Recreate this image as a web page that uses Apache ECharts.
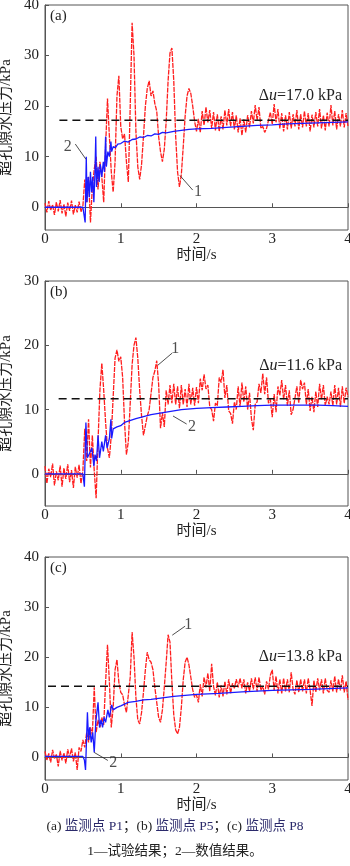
<!DOCTYPE html>
<html lang="zh">

<head>
    <meta charset="UTF-8">
    <title>超孔隙水压力时程</title>
    <script src="https://cdn.jsdelivr.net/npm/echarts@6.0.0/dist/echarts.min.js"></script>
    <style>
        html, body { margin: 0; padding: 0; background: #fff; }
        #main { width: 350px; height: 866px; }
    </style>
</head>

<body>
    <div id="main"></div>
</body>

</html>
<script type="text/javascript">
    // 试验结果（红）：从 0 s 开始，每 0.025 s 一个点
    var DT = 0.025;
    var redA = [
        0.8, -1.0, 1.2, -0.6, 0.5, -1.5, 1.0, -0.8, 1.4, -1.2,
        0.6, -1.8, 0.9, -0.7, 1.3, -1.4, 0.4, -1.0, 1.1, -0.9,
        0.2, 5.5, 1.0, 6.0, -3.0, 4.0, 7.5, 10.0, 3.5, 9.0,
        6.0, 1.0, 12.0, 21.5, 14.0, 7.0, 3.0, 9.0, 22.0, 26.0,
        16.0, 13.5, 14.5, 9.0, 5.0, 20.0, 36.5, 30.0, 15.0, 8.0,
        5.5, 8.5, 14.0, 20.0, 23.5, 25.0, 22.0, 23.0, 20.5, 19.0,
        14.0, 11.0, 9.0, 11.5, 17.0, 25.0, 30.5, 31.5, 25.0, 14.0,
        7.0, 4.0, 6.5, 12.0, 18.0, 22.0, 23.5, 22.5, 20.0, 17.0,
        15.0, 17.5, 14.8, 19.0, 16.2, 19.8, 16.8, 19.2, 15.6, 18.8,
        15.2, 18.4, 15.0, 18.0, 15.4, 19.2, 16.2, 19.4, 16.0, 18.8,
        15.4, 18.2, 14.8, 17.6, 14.2, 17.4, 14.8, 18.2, 15.8, 19.0,
        16.6, 20.2, 17.2, 19.8, 15.6, 16.0, 14.8, 15.6, 15.8, 18.8,
        16.4, 20.4, 16.8, 19.4, 15.6, 18.6, 15.0, 18.2, 15.4, 18.8,
        15.6, 18.4, 16.0, 19.2, 15.4, 18.4, 15.8, 19.0, 16.0, 18.6,
        15.0, 18.3, 15.8, 18.8, 16.0, 19.4, 15.6, 18.2, 15.2, 18.7,
        16.0, 20.2, 16.2, 19.0, 15.4, 18.4, 16.0, 19.2, 15.8, 18.6,
        16.0
    ];
    var redB = [
        1.2, -1.5, 0.8, -0.5, 1.6, -1.8, 0.4, -1.0, 1.3, -2.0,
        0.9, -0.8, 1.5, -1.3, 0.6, -2.2, 1.1, -0.6, 1.4, -1.5,
        0.5, 7.0, 2.0, 8.5, 1.0, 6.0, 0.5, -3.8, 5.0, 13.0,
        17.2, 13.0, 8.0, 4.0, 2.5, 6.0, 12.0, 18.0, 19.3, 17.5,
        18.2, 15.0, 8.0, 3.0, 5.0, 11.0, 17.0, 20.0, 21.2, 18.0,
        13.0, 9.0, 6.0, 7.5, 9.0, 10.0, 12.5, 15.0, 16.0, 17.6,
        14.0, 7.1, 9.5, 7.3, 13.0, 10.8, 13.8, 11.0, 14.0, 10.8,
        13.6, 10.2, 13.8, 10.8, 13.2, 10.4, 14.0, 10.8, 13.4, 10.6,
        13.5, 11.0, 14.8, 13.0, 15.5, 13.2, 13.8, 10.4, 10.0, 8.2,
        11.0, 10.6, 15.0, 14.2, 16.2, 11.8, 13.8, 9.8, 9.4, 7.8,
        11.2, 10.0, 13.6, 10.4, 14.2, 11.2, 13.6, 10.0, 12.6, 8.6,
        6.8, 10.8, 11.2, 14.0, 12.6, 15.6, 12.4, 15.0, 11.0, 11.6,
        8.8, 12.4, 9.6, 13.6, 12.2, 14.6, 11.6, 13.8, 10.6, 13.0,
        9.2, 10.0, 10.0, 13.6, 11.0, 14.6, 13.2, 14.2, 10.8, 13.2,
        9.8, 12.0, 9.6, 12.8, 10.4, 14.0, 11.6, 13.8, 10.6, 12.0,
        10.8, 12.8, 10.6, 13.8, 10.8, 13.4, 10.4, 13.6, 11.0, 13.4,
        12.0
    ];
    var redC = [
        1.2, -0.5, 0.8, -1.0, 1.5, -0.2, 0.6, -1.8, 1.3, -0.6,
        0.9, -1.2, 1.6, 0.0, 1.8, -0.8, 1.0, -2.5, 2.0, 1.2,
        3.5, 2.0, 5.0, 3.0, 6.0, 4.5, 14.0, 5.0, 7.5, 6.0,
        8.0, 6.5, 15.0, 22.5, 15.0, 6.0, 10.0, 17.5, 19.5, 15.0,
        13.0, 12.5, 10.5, 9.0, 8.7, 16.0, 25.0, 20.0, 12.0, 7.5,
        6.7, 9.0, 13.0, 17.5, 21.0, 19.5, 19.0, 17.5, 14.0, 11.0,
        8.0, 7.0, 9.5, 14.0, 19.0, 24.5, 23.0, 15.0, 8.5, 5.5,
        4.7, 6.0, 10.0, 15.5, 19.0, 20.0, 18.5, 16.0, 13.5, 12.0,
        12.5, 11.0, 14.6, 12.2, 16.0, 14.0, 16.8, 13.2, 18.7, 14.2,
        12.4, 15.0, 12.0, 14.4, 12.2, 15.2, 12.6, 15.6, 12.8, 14.8,
        13.8, 15.6, 14.0, 15.8, 13.8, 15.6, 12.8, 15.0, 13.2, 15.8,
        13.6, 16.0, 13.2, 16.0, 13.4, 14.2, 12.6, 15.2, 13.6, 16.4,
        17.5, 13.4, 16.2, 12.8, 15.6, 12.8, 15.8, 13.2, 15.6, 13.0,
        17.0, 13.6, 12.6, 15.4, 13.0, 15.6, 13.2, 15.6, 12.8, 15.8,
        13.4, 10.3, 15.4, 13.0, 15.8, 13.4, 15.6, 12.8, 15.8, 13.4,
        13.0, 15.4, 13.2, 16.2, 13.0, 15.6, 13.4, 16.4, 13.0, 15.2,
        11.5
    ];

    // 数值结果（蓝）：[时间 s, 压力 kPa]
    var blueA = [[0, 0], [0.5, 0], [0.52, -0.3], [0.53, -3], [0.545, 10], [0.555, 1], [0.57, 6], [0.585, 2],
        [0.6, 7], [0.615, 3], [0.63, 6], [0.645, 1], [0.66, 7], [0.67, 14], [0.68, 4], [0.7, 8], [0.715, 5],
        [0.73, 8.5], [0.75, 6], [0.77, 9], [0.785, 7], [0.8, 14], [0.81, 8], [0.83, 11], [0.85, 10], [0.87, 13],
        [0.88, 11], [0.9, 12], [0.93, 11.8], [0.96, 12.5], [1.0, 12.6], [1.05, 13.1], [1.1, 12.9], [1.15, 13.4],
        [1.2, 13.5], [1.25, 13.9], [1.3, 13.8], [1.35, 14.2], [1.4, 14.1], [1.45, 14.5], [1.5, 14.4],
        [1.55, 14.8], [1.6, 14.7], [1.7, 15.0], [1.8, 15.2], [1.9, 15.4], [2.0, 15.5], [2.2, 15.6], [2.4, 15.8],
        [2.6, 16.0], [2.8, 16.2], [3.0, 16.3], [3.2, 16.5], [3.4, 16.6], [3.6, 16.7], [3.8, 16.8], [4.0, 16.9]];
    var blueB = [[0, 0], [0.5, 0], [0.52, -2], [0.54, 8], [0.56, 2.5], [0.58, 3], [0.6, 2.8], [0.62, 4],
        [0.645, 1.2], [0.66, 3], [0.68, 2], [0.7, 6], [0.72, 2.5], [0.75, 5], [0.77, 3.5], [0.8, 6], [0.82, 4],
        [0.85, 5.5], [0.87, 8.5], [0.88, 5.5], [0.9, 7], [0.95, 7.3], [1.0, 7.5], [1.05, 8.0], [1.1, 8.2],
        [1.2, 8.6], [1.3, 8.9], [1.4, 9.2], [1.5, 9.4], [1.6, 9.6], [1.7, 9.8], [1.8, 10.0], [2.0, 10.2],
        [2.2, 10.3], [2.4, 10.4], [2.6, 10.5], [2.8, 10.6], [3.0, 10.7], [3.2, 10.7], [3.4, 10.7], [3.6, 10.7],
        [3.8, 10.6], [4.0, 10.5]];
    var blueC = [[0, 0.2], [0.5, 0.2], [0.52, -0.5], [0.535, -2.5], [0.56, 9], [0.575, 3.5], [0.59, 6],
        [0.61, 3], [0.63, 5], [0.65, 1], [0.67, 7], [0.7, 11], [0.72, 6], [0.74, 7.5], [0.76, 6], [0.78, 8],
        [0.8, 7], [0.83, 9.5], [0.85, 8], [0.88, 10.5], [0.9, 9.5], [0.95, 10], [1.0, 10.3], [1.1, 11.0],
        [1.2, 11.2], [1.3, 11.5], [1.4, 11.6], [1.5, 11.8], [1.7, 12.2], [2.0, 12.6], [2.3, 12.8], [2.6, 13.1],
        [3.0, 13.4], [3.5, 13.6], [4.0, 13.9]];

    // Δu 参考线 [起点 s, 终点 s, kPa]
    var duA = [0.19, 4, 17.2];
    var duB = [0.18, 4, 11.7];
    var duC = [0.04, 4, 14.2];
    var duText = ['17.0', '11.6', '13.8'];

    var yTicksA = [0, 10, 20, 30, 40];
    var yTicksB = [0, 10, 20, 30];
    var yTicksC = [0, 10, 20, 30, 40];

    var SERIF = 'Liberation Serif, Noto Sans CJK SC';

    // 面板布局
    var panels = [
        { top: 5, height: 225, ymin: -4.5, ymax: 40, yt: yTicksA, red: redA, blue: blueA, du: duA, tag: '(a)',
          n1: [[1.78, 6.3], [1.95, 3.4]], l1: [2.02, 3.0], n2: [[0.40, 12.5], [0.54, 9.5]], l2: [0.30, 11.9] },
        { top: 281, height: 225, ymin: -5, ymax: 30, yt: yTicksB, red: redB, blue: blueB, du: duB, tag: '(b)',
          n1: [[1.49, 16.9], [1.68, 18.8]], l1: [1.72, 19.5], n2: [[1.69, 9.0], [1.87, 7.75]], l2: [1.94, 7.3] },
        { top: 557, height: 223, ymin: -4.5, ymax: 40, yt: yTicksC, red: redC, blue: blueC, du: duC, tag: '(c)',
          n1: [[1.68, 24.4], [1.85, 26.2]], l1: [1.89, 26.4], n2: [[0.65, 1.0], [0.83, -0.6]], l2: [0.90, -1.0] }
    ];

    var grid = [], xAxis = [], yAxis = [], series = [], graphic = [];

    panels.forEach(function(p, k) {
        grid.push({ left: 45, width: 303, top: p.top, height: p.height, show: true,
            borderColor: '#555', borderWidth: 1, containLabel: false, outerBoundsMode: 'none' });
        xAxis.push({
            gridIndex: k, type: 'value', min: 0, max: 4, interval: 1,
            name: '时间/s', nameLocation: 'middle', nameGap: 16,
            nameTextStyle: { fontFamily: SERIF, fontSize: 15, color: '#222' },
            axisLine: { lineStyle: { color: '#555' } },
            axisTick: { inside: true, length: 4, lineStyle: { color: '#555' } },
            axisLabel: { margin: 2, fontFamily: SERIF, fontSize: 15, color: '#222' },
            splitLine: { show: false }
        });
        yAxis.push({
            gridIndex: k, type: 'value', min: p.ymin, max: p.ymax,
            name: '超孔隙水压力/kPa', nameLocation: 'middle', nameGap: 27,
            nameTextStyle: { fontFamily: SERIF, fontSize: 15, color: '#222' },
            axisLine: { lineStyle: { color: '#555' } },
            axisTick: { inside: true, length: 4, customValues: p.yt, lineStyle: { color: '#555' } },
            axisLabel: { margin: 6, customValues: p.yt, fontFamily: SERIF, fontSize: 15, color: '#222' },
            splitLine: { show: false }
        });

        var redPts = p.red.map(function(v, i) { return [+(i * DT).toFixed(3), v]; });
        series.push({
            type: 'line', xAxisIndex: k, yAxisIndex: k, data: redPts, symbol: 'none', silent: true,
            lineStyle: { color: '#ff1e1e', width: 1.3, type: [5, 1] }
        });
        series.push({
            type: 'line', xAxisIndex: k, yAxisIndex: k, data: p.blue, symbol: 'none', silent: true,
            lineStyle: { color: '#1a1aff', width: 1.3 }
        });
        series.push({
            type: 'line', xAxisIndex: k, yAxisIndex: k, data: [[p.du[0], p.du[2]], [p.du[1], p.du[2]]],
            symbol: 'none', silent: true, lineStyle: { color: '#111', width: 1.5, type: [8, 5] }
        });
        // 标注引线
        [p.n1, p.n2].forEach(function(seg) {
            series.push({
                type: 'line', xAxisIndex: k, yAxisIndex: k, data: seg, symbol: 'none', silent: true,
                lineStyle: { color: '#222', width: 0.8 }
            });
        });
        series.push({
            type: 'scatter', xAxisIndex: k, yAxisIndex: k, symbolSize: 0, silent: true,
            data: [{ value: p.l1, label: { formatter: '1' } }, { value: p.l2, label: { formatter: '2' } }],
            label: { show: true, position: 'inside', fontFamily: SERIF, fontSize: 16, color: '#222' }
        });

        graphic.push({
            type: 'text', left: 50, top: p.top + 4,
            style: { text: p.tag, font: '15px ' + SERIF, fill: '#222' }
        });
    });

    // Δu 文字
    var duY = [97, 367, 658];
    duY.forEach(function(y, k) {
        graphic.push({
            type: 'text', right: 8, top: y - 9,
            style: {
                text: '{a|Δ}{u|u}{a|=' + duText[k] + ' kPa}',
                rich: {
                    a: { fontFamily: SERIF, fontSize: 16, fill: '#222' },
                    u: { fontFamily: SERIF, fontSize: 16, fontStyle: 'italic', fill: '#222' }
                }
            }
        });
    });

    // 图注
    graphic.push({
        type: 'text', left: 'center', top: 820,
        style: {
            text: '{k|(a)} {c|监测点 P1}{k|；(b)} {c|监测点 P5}{k|；(c)} {c|监测点 P8}',
            rich: {
                k: { fontFamily: SERIF, fontSize: 13.5, fill: '#222' },
                c: { fontFamily: SERIF, fontSize: 13.5, fill: '#2b2a6b' }
            }
        }
    });
    graphic.push({
        type: 'text', left: 'center', top: 845,
        style: { text: '1—试验结果；2—数值结果。', font: '13.5px ' + SERIF, fill: '#222' }
    });

    var myChart = echarts.init(document.getElementById('main'));
    myChart.setOption({
        animation: false,
        grid: grid,
        xAxis: xAxis,
        yAxis: yAxis,
        series: series,
        graphic: graphic
    });
</script>
